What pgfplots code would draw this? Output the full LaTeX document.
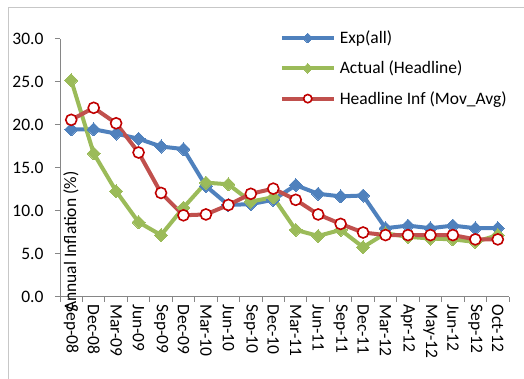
\documentclass[border=0pt]{standalone}
\usepackage{pgfplots}
\pgfplotsset{compat=1.18}
\usepackage{fontspec}
\setmainfont{Carlito}
\definecolor{expblue}{HTML}{4F81BD}
\definecolor{actgreen}{HTML}{9BBB59}
\definecolor{headred}{HTML}{C0504D}
\definecolor{mkred}{HTML}{C00000}
\definecolor{axgray}{HTML}{868686}
\begin{document}
\begin{tikzpicture}[x=1pt,y=1pt]
\path[use as bounding box] (0,0) rectangle (524,379);
\draw[black!22, line width=1.2pt] (8.5,0) -- (8.5,371.5) -- (524,371.5);
\begin{axis}[
  at={(60pt,82pt)}, anchor=south west,
  scale only axis, width=449pt, height=258pt,
  xmin=-0.5, xmax=19.5, ymin=0, ymax=30,
  axis x line*=bottom, axis y line*=left,
  axis line style={axgray, line width=1pt},
  ytick={0,5,...,30},
  xtick={0,...,19},
  xticklabels={Sep-08,Dec-08,Mar-09,Jun-09,Sep-09,Dec-09,Mar-10,Jun-10,Sep-10,Dec-10,Mar-11,Jun-11,Sep-11,Dec-11,Mar-12,Apr-12,May-12,Jun-12,Sep-12,Oct-12},
  minor xtick={-0.5,0.5,...,19.5},
  major x tick style={draw=none},
  minor x tick style={axgray, line width=1pt},
  y tick style={axgray, line width=1pt},
  tick align=outside,
  major tick length=5pt, minor tick length=5pt,
  tick label style={font=\fontsize{17.5}{20}\selectfont, black},
  xticklabel style={rotate=-90, anchor=west, xshift=-1pt, yshift=0pt},
  yticklabel style={/pgf/number format/fixed, /pgf/number format/fixed zerofill, /pgf/number format/precision=1, /pgf/number format/assume math mode=true, xshift=-8pt},
  legend style={at={(0.489,1.04)}, anchor=north west, draw=none, fill=none,
    font=\fontsize{17.5}{20}\selectfont, row sep=12pt, inner sep=0pt,
    /tikz/every odd column/.append style={column sep=2pt}},
  legend cell align=left,
  legend image code/.code={\draw[mark repeat=2,mark phase=2,#1,/tikz/every mark/.append style={scale=0.75}] plot coordinates {(0pt,0pt)(26pt,0pt)(52pt,0pt)};},
  clip=false,
]
\addplot[expblue, line width=4pt, mark=square*, mark size=4.6pt, mark options={rotate=45, line width=0pt}]
 coordinates {(0,19.5)(1,19.5)(2,19.0)(3,18.4)(4,17.5)(5,17.2)(6,12.9)(7,10.7)(8,10.8)(9,11.3)(10,13.0)(11,12.0)(12,11.7)(13,11.8)(14,8.0)(15,8.3)(16,8.0)(17,8.3)(18,8.0)(19,8.0)};
\addlegendentry{Exp(all)}
\addplot[actgreen, line width=4pt, mark=square*, mark size=4.6pt, mark options={rotate=45, line width=0pt}]
 coordinates {(0,25.2)(1,16.7)(2,12.3)(3,8.7)(4,7.2)(5,10.4)(6,13.3)(7,13.1)(8,11.1)(9,11.6)(10,7.8)(11,7.1)(12,7.8)(13,5.8)(14,7.4)(15,7.0)(16,6.8)(17,6.7)(18,6.4)(19,7.2)};
\addlegendentry{Actual (Headline)}
\addplot[headred, line width=4pt, mark=*, mark size=5.5pt, mark options={draw=mkred, fill=white, line width=1.6pt}]
 coordinates {(0,20.6)(1,22.0)(2,20.2)(3,16.8)(4,12.1)(5,9.5)(6,9.6)(7,10.7)(8,12.0)(9,12.6)(10,11.3)(11,9.6)(12,8.5)(13,7.5)(14,7.2)(15,7.2)(16,7.2)(17,7.2)(18,6.7)(19,6.7)};
\addlegendentry{Headline Inf (Mov\_Avg)}
\end{axis}
\node[rotate=90, font=\fontsize{17.5}{20}\selectfont, inner sep=0pt, anchor=west] at (71,67) {Annual Inflation (\%)};
\end{tikzpicture}
\end{document}
